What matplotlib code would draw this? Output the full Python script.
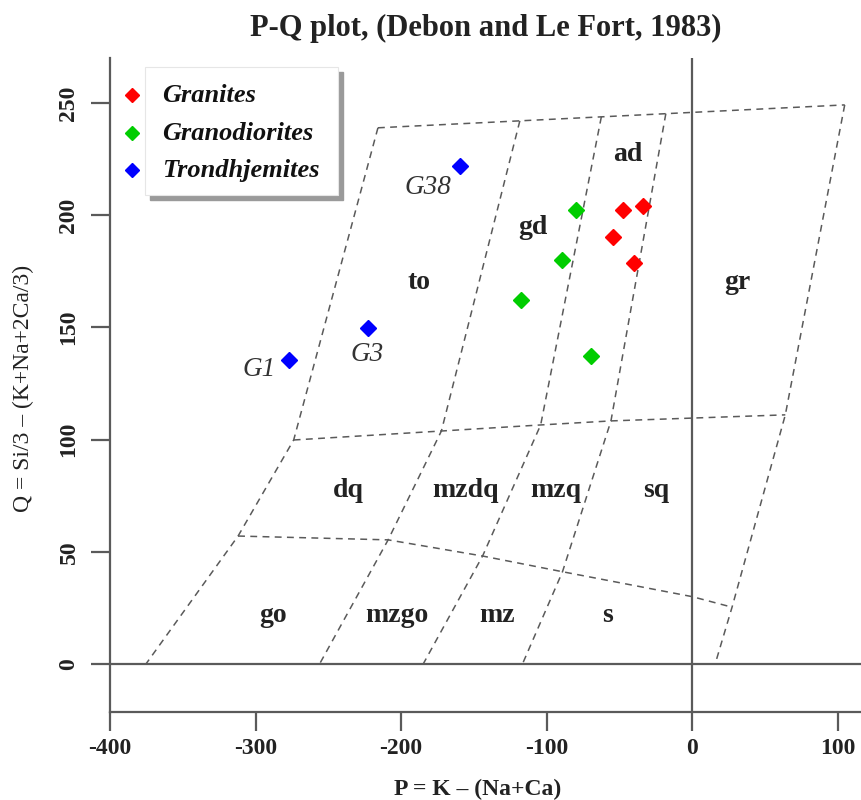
import matplotlib
matplotlib.use("Agg")
import matplotlib.pyplot as plt
from matplotlib.patches import Rectangle

plt.rcParams["font.family"] = ["Liberation Serif", "DejaVu Serif"]
plt.rcParams["axes.unicode_minus"] = False

# samples (P, Q)
granites_P = [-47.7, -33.9, -54.5, -40.1]
granites_Q = [202.3, 204.1, 190.3, 178.7]
granodior_P = [-80.0, -89.6, -117.7, -69.6]
granodior_Q = [202.3, 180.0, 162.2, 137.3]
trondh_P = [-159.6, -222.8, -277.1]
trondh_Q = [221.9, 149.7, 135.5]

# labelled samples
sample_names = ["G38", "G3", "G1"]
sample_lab_P = [-181.6, -223.5, -297.7]
sample_lab_Q = [212.1, 138.1, 131.0]

# field boundaries of the template
top_P = [-215.9, 104.8]
top_Q = [238.9, 249.1]
right_P = [104.8, 64.0, 27.4, 15.8]
right_Q = [249.1, 111.0, 25.3, 0.0]
left_P = [-215.9, -273.8, -312.0, -375.3]
left_Q = [238.9, 99.8, 57.0, 0.0]
to_gd_P = [-118.4, -172.3, -208.9, -256.0]
to_gd_Q = [242.0, 103.8, 55.3, 0.0]
gd_ad_P = [-62.4, -104.1, -144.0, -184.8]
gd_ad_Q = [243.8, 106.5, 48.1, 0.0]
ad_gr_P = [-18.1, -55.8, -89.1, -116.6]
ad_gr_Q = [245.2, 108.3, 41.1, 0.0]
upper_P = [-273.8, -172.3, -104.1, -55.8, 64.0]
upper_Q = [99.8, 103.8, 106.5, 108.3, 111.0]
lower_P = [-312.0, -208.9, -144.0, -89.1, 0.0, 27.4]
lower_Q = [57.0, 55.3, 48.1, 41.1, 30.0, 25.3]

boundaries = [(top_P, top_Q), (right_P, right_Q), (left_P, left_Q),
              (to_gd_P, to_gd_Q), (gd_ad_P, gd_ad_Q), (ad_gr_P, ad_gr_Q),
              (upper_P, upper_Q), (lower_P, lower_Q)]

field_names = ["ad", "gd", "to", "gr", "dq", "mzdq", "mzq", "sq",
               "go", "mzgo", "mz", "s"]
field_P = [-44.2, -109.5, -187.8, 31.3, -236.5, -155.5, -93.7, -25.0,
           -288.0, -202.9, -134.2, -58.0]
field_Q = [226.8, 194.3, 169.8, 169.8, 77.5, 77.5, 77.5, 77.5,
           21.4, 21.4, 21.4, 21.4]

groups = ["Granites", "Granodiorites", "Trondhjemites"]
group_colors = ["#ff0000", "#00cd00", "#0000ff"]

x_ticks = [-400, -300, -200, -100, 0, 100]
y_ticks = [0, 50, 100, 150, 200, 250]

W, H = 861, 800
fig = plt.figure(figsize=(W / 100, H / 100), dpi=100)
ax = fig.add_axes([110 / W, 88 / H, 751 / W, 654 / H])
ax.set_xlim(-400, 116)
ax.set_ylim(-21.4, 270)

grey = "#5a5a5a"
for s in ("top", "right"):
    ax.spines[s].set_visible(False)
for s in ("left", "bottom"):
    ax.spines[s].set_color(grey)
    ax.spines[s].set_linewidth(1.6)

ax.axhline(0, color=grey, lw=1.6, zorder=1)
ax.axvline(0, color=grey, lw=1.6, zorder=1)

for px, qy in boundaries:
    ax.plot(px, qy, color=grey, lw=1.1, ls=(0, (4.5, 3.5)), zorder=2)

for name, p, q in zip(field_names, field_P, field_Q):
    ax.text(p, q, name, ha="center", va="center", fontsize=20,
            fontweight="bold", color="#222222")

for P, Q, c in zip([granites_P, granodior_P, trondh_P],
                   [granites_Q, granodior_Q, trondh_Q], group_colors):
    ax.plot(P, Q, ls="none", marker="D", ms=8.5, color=c, mec=c, zorder=4)

for name, p, q in zip(sample_names, sample_lab_P, sample_lab_Q):
    ax.text(p, q, name, ha="center", va="center", fontsize=19.5,
            style="italic", color="#333333")

ax.set_xticks(x_ticks)
ax.set_yticks(y_ticks)
ax.tick_params(length=14, width=1.6, color=grey, labelsize=17,
               labelcolor="#222222")
ax.tick_params(axis="x", pad=5)
ax.tick_params(axis="y", pad=8)
for lab in ax.get_xticklabels():
    lab.set_fontweight("bold")
for lab in ax.get_yticklabels():
    lab.set_fontweight("bold")
    lab.set_rotation(90)
    lab.set_va("center")

ax.set_xlabel("P = K \u2013 (Na+Ca)", fontsize=17, fontweight="bold",
              color="#222222")
ax.xaxis.set_label_coords(0.4896, -0.1177)
ax.xaxis.label.set_va("center")
ax.set_ylabel("Q = Si/3 \u2013 (K+Na+2Ca/3)", fontsize=17, color="#222222")
ax.yaxis.set_label_coords(-0.1158, 0.494)
ax.yaxis.label.set_va("center")

fig.text(485.5 / W, 1 - 28 / H, "P-Q plot, (Debon and Le Fort, 1983)",
         ha="center", va="center", fontsize=22, fontweight="bold",
         color="#222222")

# legend box with drop shadow (drawn inside the axes so text sits on top)
bx0, by0, bw, bh = 145 / W, 1 - 195 / H, 193 / W, 128 / H
ax.add_patch(Rectangle((bx0 + 5 / W, by0 - 5 / H), bw, bh,
                       transform=fig.transFigure, color="#9a9a9a",
                       clip_on=False, zorder=5))
ax.add_patch(Rectangle((bx0, by0), bw, bh, transform=fig.transFigure,
                       facecolor="white", edgecolor="#e6e6e6", lw=0.8,
                       clip_on=False, zorder=6))
leg_y = [0.9434, 0.8853, 0.8287]
for g, c, yy in zip(groups, group_colors, leg_y):
    ax.plot([0.0293], [yy], ls="none", marker="D", ms=7, color=c,
            transform=ax.transAxes, clip_on=False, zorder=7)
    ax.text(0.0692, yy, g, transform=ax.transAxes, ha="left", va="center",
            fontsize=19, fontweight="bold", style="italic", color="#111111",
            zorder=8)

fig.savefig("out.png", dpi=100)
